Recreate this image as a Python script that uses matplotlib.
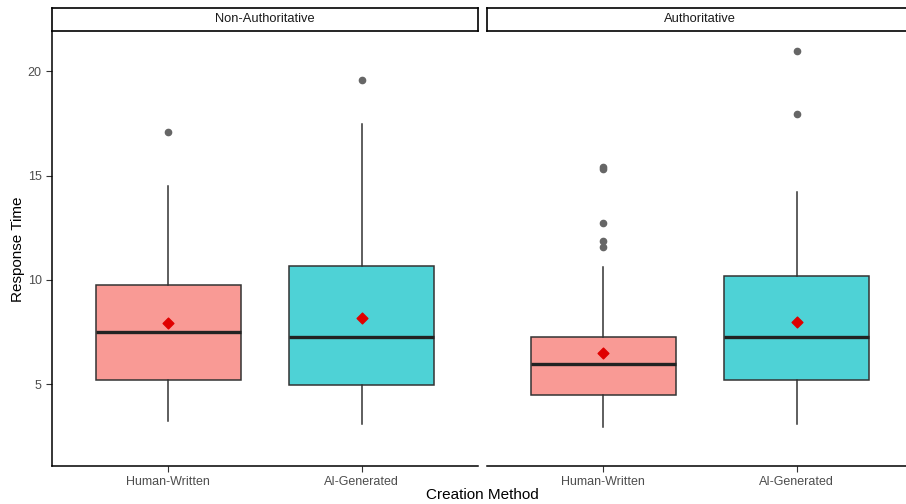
import matplotlib

matplotlib.use("Agg")
import matplotlib.pyplot as plt

plt.rcParams["font.family"] = ["Liberation Sans", "DejaVu Sans"]

panels = ["Non-Authoritative", "Authoritative"]
methods = ["Human-Written", "AI-Generated"]

# summary stats per panel, per method
whislo = [[3.23, 3.08], [2.95, 3.08]]
q1 = [[5.20, 4.95], [4.49, 5.19]]
med = [[7.48, 7.25], [5.94, 7.27]]
q3 = [[9.76, 10.66], [7.25, 10.18]]
whishi = [[14.50, 17.47], [10.63, 14.20]]
means = [[7.94, 8.17], [6.50, 7.99]]
fliers = [
    [[17.1], [19.57]],
    [[15.33, 15.42, 12.71, 11.87, 11.55], [20.96, 17.94]],
]

fills = ["#F99A95", "#4ED2D6"]
TXT = "#4D4D4D"

fig = plt.figure(figsize=(9.06, 5.04), dpi=100)
W, H = 906, 504
lefts = [52, 487]
pw = 426
top, bot = 31, 466

for p, name in enumerate(panels):
    ax = fig.add_axes([lefts[p] / W, (H - bot) / H, pw / W, (bot - top) / H])
    stats = []
    for m in range(2):
        stats.append(dict(med=med[p][m], q1=q1[p][m], q3=q3[p][m],
                          whislo=whislo[p][m], whishi=whishi[p][m],
                          fliers=fliers[p][m], label=methods[m]))
    bp = ax.bxp(stats, positions=[1, 2], widths=0.75, patch_artist=True,
                showcaps=False,
                boxprops=dict(edgecolor="#333333", linewidth=1.1),
                medianprops=dict(color="#222222", linewidth=2.4),
                whiskerprops=dict(color="#333333", linewidth=1.1),
                flierprops=dict(marker="o", markerfacecolor="#666666",
                                markeredgecolor="#666666", markersize=4.5))
    for patch, c in zip(bp["boxes"], fills):
        patch.set_facecolor(c)
    ax.scatter([1, 2], means[p], marker="D", s=30, color="#E00000", zorder=5)

    ax.set_xlim(0.4, 2.6)
    ax.set_ylim(1.07, 21.93)
    ax.set_yticks([5, 10, 15, 20])
    ax.set_xticks([1, 2])
    ax.set_xticklabels(methods)
    for s in ["top", "right"]:
        ax.spines[s].set_visible(False)
    ax.spines["bottom"].set_linewidth(1.1)
    ax.spines["left"].set_linewidth(1.1)
    ax.tick_params(axis="both", length=4, width=0.8, color="#333333",
                   labelcolor=TXT, labelsize=9)
    if p == 1:
        ax.spines["left"].set_visible(False)
        ax.tick_params(axis="y", left=False, labelleft=False)

    # facet strip
    sx = fig.add_axes([lefts[p] / W, (H - top) / H, pw / W, 23 / H])
    sx.set_xticks([])
    sx.set_yticks([])
    for s in sx.spines.values():
        s.set_linewidth(1.2)
    sx.text(0.5, 0.5, name, ha="center", va="center", fontsize=9.3,
            color="#1A1A1A", transform=sx.transAxes)

fig.text(18 / W, 1 - 249 / H, "Response Time", ha="center", va="center",
         rotation=90, fontsize=11)
fig.text(482 / W, 1 - 495 / H, "Creation Method", ha="center", va="center",
         fontsize=11)

fig.savefig("out.png", dpi=100)
